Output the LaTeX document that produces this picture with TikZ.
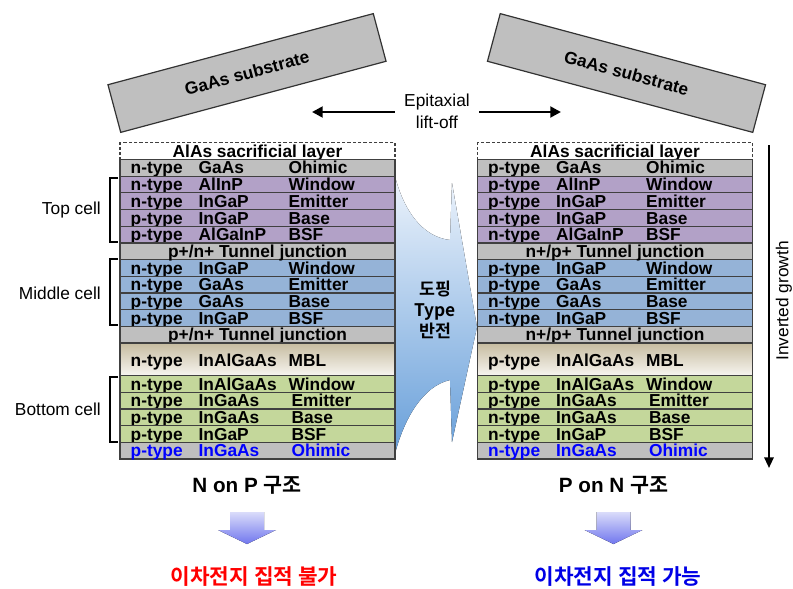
\documentclass[tikz,border=0pt]{standalone}
\usepackage{fontspec}
\setmainfont{Liberation Sans}
\newfontfamily\kr{Noto Sans CJK KR}[BoldFont={Noto Sans CJK KR Bold}]
\usetikzlibrary{arrows.meta,calc}
\definecolor{gr}{RGB}{191,191,191}
\definecolor{pu}{RGB}{178,161,199}
\definecolor{bl}{RGB}{149,179,215}
\definecolor{gn}{RGB}{196,215,155}
\definecolor{edge}{RGB}{64,64,64}
\definecolor{mbltop}{RGB}{198,188,160}
\definecolor{mblbot}{RGB}{247,245,240}
\definecolor{bigtop}{RGB}{235,242,251}
\definecolor{bigbot}{RGB}{105,160,218}
\definecolor{dtop}{RGB}{218,220,250}
\definecolor{dbot}{RGB}{112,118,238}
\definecolor{ohm}{RGB}{0,0,255}
\definecolor{bad}{RGB}{255,0,0}
\definecolor{good}{RGB}{0,0,230}
\newcommand\lrow[8]{%
  \node[layer, fill=#4] (#1) at (#2,#3) {};
  \node[lbl, text=#8] (#1a) at ($(#1.south west)+(11,-2.8)$) {#5};
  \node[lbl, text=#8] (#1b) at ($(#1.south west)+(79,-2.8)$) {#6};
  \node[lbl, text=#8] (#1c) at ($(#1.south west)+(169,-2.8)$) {#7};
}
\newcommand\trow[4]{%
  \node[layer, fill=gr] (#1) at (#2,#3) {};
  \node[lbl, anchor=base] (#1t) at ($(#1.south)+(0,-2.8)$) {#4};
}
\begin{document}
\begin{tikzpicture}[x=0.75pt,y=-0.75pt,
  layer/.style={draw=edge, line width=0.9pt, minimum width=206.25pt, minimum height=12.51pt, inner sep=0pt},
  lbl/.style={font=\fontsize{13}{15}\selectfont\bfseries, inner sep=0pt, anchor=base west},
  side/.style={font=\fontsize{13}{15}\selectfont, inner sep=0pt},
  brk/.style={line width=1.1pt, black},
  sub/.style={draw=black!80, line width=0.9pt, fill=gr, minimum width=206pt, minimum height=37pt, inner sep=0pt, font=\fontsize{13}{15}\selectfont\bfseries},
  arr/.style={line width=2.2pt, -{Triangle[length=8pt,width=8pt]}},
  head/.style={font=\fontsize{15.5}{18}\selectfont\bfseries, inner sep=0pt},
  res/.style={font=\kr\fontsize{16}{19}\selectfont\bfseries, inner sep=0pt}]
\useasboundingbox (0,0) rectangle (793,589);
\fill[white] (0,0) rectangle (793,589);

% substrates
\node[sub, rotate=15] (subL) at (247,73) {GaAs substrate};
\node[sub, rotate=-15] (subR) at (626.5,73) {GaAs substrate};

% epitaxial lift-off
\node[side, align=center, font=\fontsize{13}{16.5}\selectfont, minimum width=63pt] (epi) at (437,111) {Epitaxial\\lift-off};
\coordinate (aL) at (312,112);
\coordinate (aR) at (561,112);
\draw[arr] (epi.west |- aL) -- (aL);
\draw[arr] (epi.east |- aR) -- (aR);

% big middle arrow
\fill[top color=bigtop, bottom color=bigbot]
  (396,180) .. controls (405,212) and (423,237) .. (450,240)
  -- (452,183) -- (477,327) -- (452,442) -- (450,380)
  .. controls (423,386) and (405,418) .. (396,450) -- cycle;
\node[inner sep=0pt, align=center, font=\kr\fontsize{13}{16}\selectfont\bfseries] (dop) at (435,310) {도핑\\Type\\반전};

% left stack
\node[layer, fill=white, dashed, dash pattern=on 2.5pt off 1.5pt] (Ls) at (257.5,151.15) {};
\node[lbl, anchor=base] (Lst) at ($(Ls.south)+(0,-2.8)$) {AlAs sacrificial layer};
\foreach \i/\f/\a/\b/\c in {1/gr/n-type/GaAs/Ohimic, 2/pu/n-type/AlInP/Window, 3/pu/n-type/InGaP/Emitter, 4/pu/p-type/InGaP/Base, 5/pu/p-type/AlGaInP/BSF, 7/bl/n-type/InGaP/Window, 8/bl/n-type/GaAs/Emitter, 9/bl/p-type/GaAs/Base, 10/bl/p-type/InGaP/BSF}{
  \pgfmathsetmacro\yy{167.84+(\i-1)*16.68}
  \lrow{L\i}{257.5}{\yy}{\f}{\a}{\b}{\c}{black}
}
\trow{L6}{257.5}{251.24}{p+/n+ Tunnel junction}
\trow{L11}{257.5}{334.64}{p+/n+ Tunnel junction}
\node[layer, minimum height=24.45pt, top color=mbltop, bottom color=mblbot] (Lm) at (257.5,359.3) {};
\node[lbl] (Lma) at ($(Lm.west)+(11,7.5)$) {n-type};
\node[lbl] (Lmb) at ($(Lm.west)+(79,7.5)$) {InAlGaAs};
\node[lbl] (Lmc) at ($(Lm.west)+(169,7.5)$) {MBL};
\foreach \i/\f/\a/\b/\c/\t in {12/gn/n-type/InAlGaAs/Window/black, 13/gn/n-type/InGaAs/\,Emitter/black, 14/gn/p-type/InGaAs/\,Base/black, 15/gn/p-type/InGaP/\,BSF/black, 16/gr/p-type/InGaAs/\,Ohimic/ohm}{
  \pgfmathsetmacro\yy{383.94+(\i-12)*16.68}
  \lrow{L\i}{257.5}{\yy}{\f}{\a}{\b}{\c}{\t}
}

% right stack
\node[layer, fill=white, dashed, dash pattern=on 2.5pt off 1.5pt] (Rs) at (615,151.15) {};
\node[lbl, anchor=base] (Rst) at ($(Rs.south)+(0,-2.8)$) {AlAs sacrificial layer};
\foreach \i/\f/\a/\b/\c in {1/gr/p-type/GaAs/Ohimic, 2/pu/p-type/AlInP/Window, 3/pu/p-type/InGaP/Emitter, 4/pu/n-type/InGaP/Base, 5/pu/n-type/AlGaInP/BSF, 7/bl/p-type/InGaP/Window, 8/bl/p-type/GaAs/Emitter, 9/bl/n-type/GaAs/Base, 10/bl/n-type/InGaP/BSF}{
  \pgfmathsetmacro\yy{167.84+(\i-1)*16.68}
  \lrow{R\i}{615}{\yy}{\f}{\a}{\b}{\c}{black}
}
\trow{R6}{615}{251.24}{n+/p+ Tunnel junction}
\trow{R11}{615}{334.64}{n+/p+ Tunnel junction}
\node[layer, minimum height=24.45pt, top color=mbltop, bottom color=mblbot] (Rm) at (615,359.3) {};
\node[lbl] (Rma) at ($(Rm.west)+(11,7.5)$) {p-type};
\node[lbl] (Rmb) at ($(Rm.west)+(79,7.5)$) {InAlGaAs};
\node[lbl] (Rmc) at ($(Rm.west)+(169,7.5)$) {MBL};
\foreach \i/\f/\a/\b/\c/\t in {12/gn/p-type/InAlGaAs/Window/black, 13/gn/p-type/InGaAs/\,Emitter/black, 14/gn/n-type/InGaAs/\,Base/black, 15/gn/n-type/InGaP/\,BSF/black, 16/gr/n-type/InGaAs/\,Ohimic/ohm}{
  \pgfmathsetmacro\yy{383.94+(\i-12)*16.68}
  \lrow{R\i}{615}{\yy}{\f}{\a}{\b}{\c}{\t}
}

% brackets and side labels
\draw[brk] (118,178) -- (110,178) -- (110,242) -- (118,242);
\draw[brk] (118,259) -- (110,259) -- (110,325) -- (118,325);
\draw[brk] (118,377) -- (110,377) -- (110,442) -- (118,442);
\node[side, anchor=east] (tc) at (101,210) {Top cell};
\node[side, anchor=east] (mc) at (101,293) {Middle cell};
\node[side, anchor=east] (bc) at (101,409) {Bottom cell};

% inverted growth
\coordinate (igT) at (769,145);
\coordinate (igB) at (769,468);
\draw[line width=1.5pt, -{Triangle[length=8pt,width=7pt]}] (igT) -- (igB);
\node[side, rotate=90] (ig) at (784,301) {Inverted growth};

% bottom captions
\node[head] (hL) at (247,485) {N on P {\kr 구조}};
\node[head] (hR) at (613.5,485) {P on N {\kr 구조}};
\foreach \cx in {247,613.5}{
  \fill[top color=dtop, bottom color=dbot] (\cx-17,512) -- (\cx+17,512) -- (\cx+17,530) -- (\cx+29,530) -- (\cx,544) -- (\cx-29,530) -- (\cx-17,530) -- cycle;
}
\node[res, text=bad] (rL) at (254,577) {이차전지 집적 불가};
\node[res, text=good] (rR) at (618,577) {이차전지 집적 가능};
\end{tikzpicture}
\end{document}
